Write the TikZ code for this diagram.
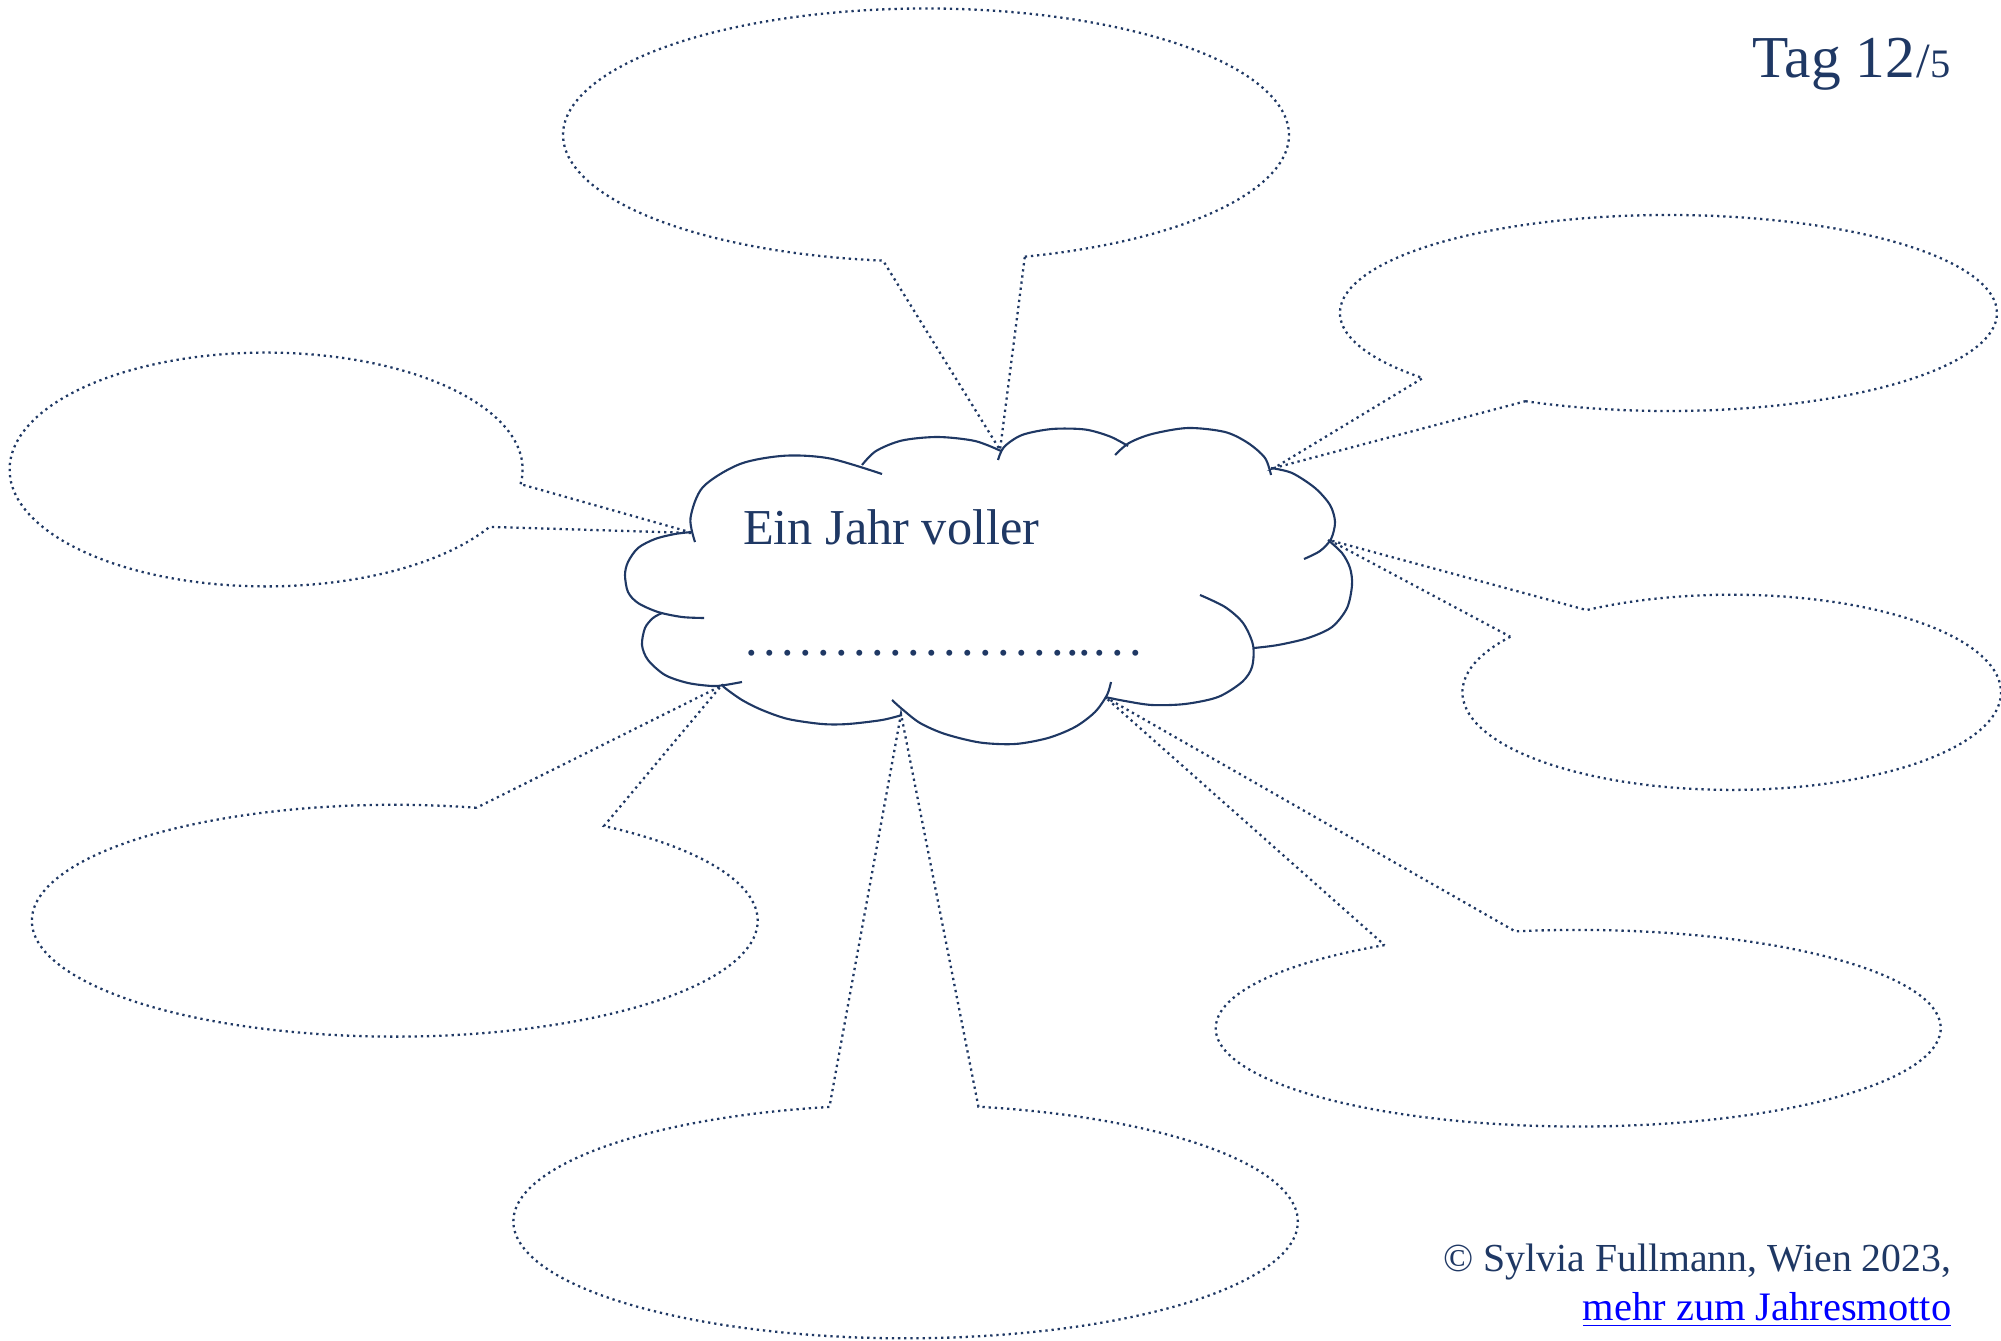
\documentclass[tikz,border=0pt]{standalone}
\usepackage{fontspec}
\setmainfont{Liberation Serif}
\definecolor{navy}{HTML}{1F3864}
\definecolor{linkblau}{HTML}{0000FF}
\newcommand{\pkt}{.\kern1.55pt}

\begin{document}
\begin{tikzpicture}[x=0.01cm,y=0.01cm,
  blase/.style={draw=navy, line width=0.65pt, dash pattern=on 0.65pt off 1.1pt},
  wolke/.style={draw=navy, line width=0.6pt},
  schrift/.style={text=navy, inner sep=0pt}]
\useasboundingbox (0,0) rectangle (2001,-1340);

% tips of the bubbles on the cloud
\coordinate (tipOben) at (1000,-450);
\coordinate (tipLinks) at (693,-533);
\coordinate (tipRechtsOben) at (1274,-468);
\coordinate (tipRechts) at (1329,-540);
\coordinate (tipRechtsUnten) at (1105,-697);
\coordinate (tipLinksUnten) at (721,-686);
\coordinate (tipUnten) at (901,-714);

% speech bubbles
\draw[blase] (926,-135) ++(-74.2:362.9 and 126.5) arc[start angle=-74.2, end angle=263.2, x radius=362.9, y radius=126.5] -- (tipOben) -- cycle;
\draw[blase] (266.1,-469.5) ++(-7.2:256.5 and 116.9) arc[start angle=-7.2, end angle=330.6, x radius=256.5, y radius=116.9] -- (tipLinks) -- cycle;
\draw[blase] (1668.4,-313) ++(244.2:328.5 and 98) arc[start angle=244.2, end angle=581.6, x radius=328.5, y radius=98] -- (tipRechtsOben) -- cycle;
\draw[blase] (1731.7,-692.3) ++(145.3:269.3 and 97.6) arc[start angle=145.3, end angle=482.6, x radius=269.3, y radius=97.6] -- (tipRechts) -- cycle;
\draw[blase] (1578.2,-1028.2) ++(122.3:362.5 and 98.3) arc[start angle=122.3, end angle=460, x radius=362.5, y radius=98.3] -- (tipRechtsUnten) -- cycle;
\draw[blase] (394.8,-920.7) ++(77:362.9 and 115.9) arc[start angle=77, end angle=414.8, x radius=362.9, y radius=115.9] -- (tipLinksUnten) -- cycle;
\draw[blase] (905.6,-1221.5) ++(101.2:392.2 and 116.8) arc[start angle=101.2, end angle=439.3, x radius=392.2, y radius=116.8] -- (tipUnten) -- cycle;

% cloud
\draw[wolke] plot[smooth] coordinates {(695,-542) (690.5,-518) (703,-487) (740,-464) (785,-455.7) (830,-458.5) (882,-474)};
\draw[wolke] plot[smooth] coordinates {(862,-465) (876,-451) (902,-440.5) (938,-437) (975,-441) (1001,-451)};
\draw[wolke] plot[smooth] coordinates {(998,-460) (1004,-447) (1022,-435) (1052,-429) (1085,-429.5) (1110,-436.5) (1128,-446)};
\draw[wolke] plot[smooth] coordinates {(1115,-455) (1129,-443) (1152,-434) (1188,-428) (1225,-432) (1248,-443) (1265,-458) (1271,-475)};
\draw[wolke] plot[smooth] coordinates {(1271,-468) (1292,-473) (1315,-488) (1330,-505) (1335,-522) (1331,-539) (1320,-551) (1304,-559)};
\draw[wolke] plot[smooth] coordinates {(1328,-540) (1342,-553) (1350,-568) (1352,-585) (1347,-608) (1332,-627) (1308,-638) (1278,-645) (1254,-648)};
\draw[wolke] plot[smooth] coordinates {(1200,-595) (1225,-607) (1243,-623) (1253,-645) (1252,-667) (1242,-682) (1218,-697) (1185,-704) (1152,-705) (1125,-701) (1105,-697)};
\draw[wolke] plot[smooth] coordinates {(1111,-682) (1107,-695) (1095,-712) (1075,-727) (1048,-738) (1015,-744) (980,-742.5) (945,-734) (920,-723) (902,-709) (892,-700)};
\draw[wolke] plot[smooth] coordinates {(902,-715) (882,-720) (848,-724) (822,-724) (788,-719) (762,-710) (742,-700) (725,-688) (722,-684)};
\draw[wolke] plot[smooth] coordinates {(742,-682) (725,-685) (712,-686) (688,-683) (665,-675) (648,-660) (642,-645) (645,-628) (653,-618) (662,-613)};
\draw[wolke] plot[smooth] coordinates {(692,-532) (675,-534) (655,-539) (638,-548) (628,-562) (625,-575) (628,-592) (638,-603) (658,-612) (682,-617) (704,-618)};

% texts
\node[schrift, anchor=base west] (motto) at (742.5,-544.3) {\fontsize{14.3}{17}\selectfont Ein Jahr voller};
\node[schrift, anchor=base west] (punkte) at (744.4,-655.8) {\fontsize{14.3}{17}\selectfont \pkt\pkt\pkt\pkt\pkt\pkt\pkt\pkt\pkt\pkt\pkt\pkt\pkt\pkt\pkt\pkt\pkt.\kern.69pt.\kern-.25pt.\kern.69pt.\kern1.63pt.\kern1.63pt.};
\node[schrift, anchor=base east] (tag) at (1951,-77.7) {\fontsize{16.9}{20}\selectfont Tag 12\kern.4pt{\fontsize{14}{16}\selectfont/}{\fontsize{11.5}{14}\selectfont 5}};
\node[schrift, anchor=base east] (copy) at (1952,-1271) {\fontsize{11.3}{13}\selectfont © Sylvia Fullmann, Wien 2023,};
\node[inner sep=0pt, text=linkblau, anchor=base east] (link) at (1952,-1320) {\fontsize{11.5}{13}\selectfont \underline{mehr zum Jahresmotto}};
\end{tikzpicture}
\end{document}
